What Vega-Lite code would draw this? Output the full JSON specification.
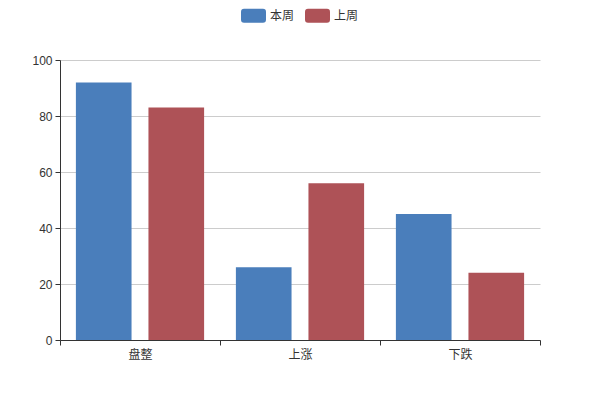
{
  "$schema": "https://vega.github.io/schema/vega-lite/v6.json",
  "width": 480,
  "height": 280,
  "autosize": {"type": "none"},
  "padding": {"left": 60, "top": 60, "right": 60, "bottom": 60},
  "background": "white",
  "config": {
    "view": {"stroke": null},
    "font": "Liberation Sans, Noto Sans CJK SC, sans-serif"
  },
  "data": {
    "values": [
      {"category": "盘整", "series": "本周", "value": 92},
      {"category": "盘整", "series": "上周", "value": 83},
      {"category": "上涨", "series": "本周", "value": 26},
      {"category": "上涨", "series": "上周", "value": 56},
      {"category": "下跌", "series": "本周", "value": 45},
      {"category": "下跌", "series": "上周", "value": 24}
    ]
  },
  "mark": {"type": "bar"},
  "encoding": {
    "x": {
      "field": "category",
      "type": "nominal",
      "sort": ["盘整", "上涨", "下跌"],
      "scale": {"paddingInner": 0, "paddingOuter": 0},
      "axis": {
        "title": null,
        "labelAngle": 0,
        "labelColor": "#333",
        "labelFontSize": 12,
        "labelPadding": 4,
        "domainColor": "#333",
        "tickColor": "#333",
        "tickSize": 5,
        "tickBand": "extent",
        "grid": false
      }
    },
    "xOffset": {
      "field": "series",
      "type": "nominal",
      "sort": ["本周", "上周"],
      "scale": {"paddingInner": 0.233, "paddingOuter": 0.219}
    },
    "y": {
      "field": "value",
      "type": "quantitative",
      "scale": {"domain": [0, 100], "nice": false},
      "axis": {
        "title": null,
        "values": [0, 20, 40, 60, 80, 100],
        "labelColor": "#333",
        "labelFontSize": 12,
        "labelPadding": 3,
        "domainColor": "#333",
        "tickColor": "#333",
        "tickSize": 5,
        "gridColor": "#ccc",
        "gridWidth": 1
      }
    },
    "color": {
      "field": "series",
      "type": "nominal",
      "scale": {"domain": ["本周", "上周"], "range": ["#4a7ebb", "#ae5257"]},
      "legend": {
        "title": null,
        "orient": "none",
        "direction": "horizontal",
        "legendX": 181,
        "legendY": -57,
        "symbolType": "M-0.76,-0.56 L0.76,-0.56 Q1,-0.56 1,-0.32 L1,0.32 Q1,0.56 0.76,0.56 L-0.76,0.56 Q-1,0.56 -1,0.32 L-1,-0.32 Q-1,-0.56 -0.76,-0.56 Z",
        "symbolSize": 625,
        "symbolStrokeWidth": 0,
        "symbolOpacity": 1,
        "labelFontSize": 12,
        "labelColor": "#333",
        "labelOffset": 4,
        "columnPadding": 10
      }
    }
  }
}
